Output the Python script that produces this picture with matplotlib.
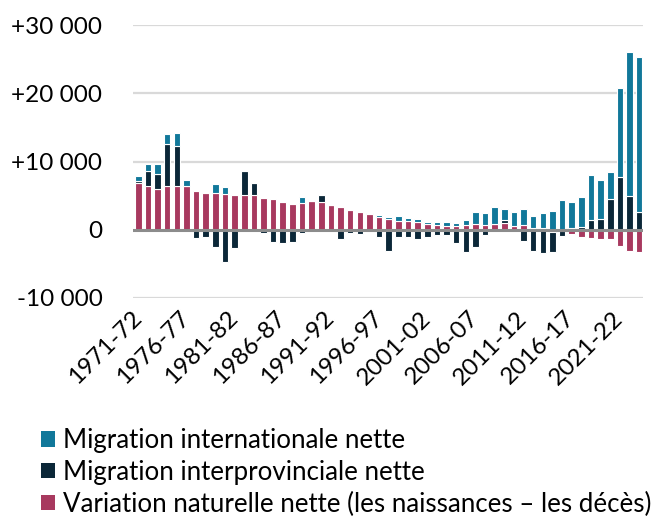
import matplotlib
matplotlib.use("Agg")
import matplotlib.pyplot as plt
from matplotlib.patches import Patch
import numpy as np

plt.rcParams['font.family'] = ['Lato', 'DejaVu Sans']

years = [f"{y}-{str(y + 1)[-2:]}" for y in range(1971, 2024)]
tick_labels = ["1971-72", "1976-77", "1981-82", "1986-87", "1991-92", "1996-97",
               "2001-02", "2006-07", "2011-12", "2016-17", "2021-22"]

natural = [6830, 6440, 5900, 6440, 6440, 6340, 5710, 5410, 5320, 5270,
           5070, 5070, 5070, 4700, 4540, 4100, 3800, 3950, 4200, 4100,
           3660, 3370, 2880, 2630, 2260, 1800, 1610, 1340, 1340, 1070,
           780, 750, 490, 490, 680, 780, 630, 900, 930, 490,
           650, 250, 200, -400, -150, -600, -1070, -1220, -1320, -1320,
           -2340, -3070, -3270]
interprov = [350, 2100, 2250, 6100, 5900, 0, -1220, -1020, -2590, -4780,
             -2680, 3610, 1760, -490, -1760, -1950, -1850, -490, 0, 950,
             0, -1300, -520, -650, -150, -1120, -3070, -1070, -1050, -1370,
             -1070, -700, -730, -1950, -3320, -2540, -730, 0, 500, 100,
             -1600, -3120, -3420, -2830, -750, 250, 350, 1460, 1560, 4490,
             7660, 4880, 2590]
international = [700, 1070, 1510, 1460, 1810, 980, 0, 0, 1410, 930,
                 0, 0, 0, 0, 0, 0, 0, 800, 0, 0,
                 0, 0, 0, 0, 250, 300, 250, 650, 450, 450,
                 350, 450, 580, 480, 700, 1800, 1850, 2500, 1650, 2050,
                 2350, 1800, 2300, 2680, 4390, 3750, 4400, 6540, 5660, 4000,
                 13070, 21120, 22780]

series = [
    ("Variation naturelle nette (les naissances \u2013 les d\u00e9c\u00e8s)", natural, "#A8395F"),
    ("Migration interprovinciale nette", interprov, "#0B2738"),
    ("Migration internationale nette", international, "#11789A"),
]

FS_TICK = 17.5
FS_LEG = 18.6

fig = plt.figure(figsize=(6.71, 5.25), dpi=100)
ax = fig.add_axes([133 / 671, 1 - 298 / 525, (643 - 133) / 671, (298 - 25) / 525])

x = np.arange(len(years))
pos_bottom = np.zeros(len(years))
neg_bottom = np.zeros(len(years))
for name, vals, col in series:
    v = np.array(vals, dtype=float)
    bottom = np.where(v >= 0, pos_bottom, neg_bottom)
    ax.bar(x, v, bottom=bottom, width=0.68, color=col, edgecolor="white",
           linewidth=0.8, zorder=2)
    pos_bottom += np.where(v > 0, v, 0)
    neg_bottom += np.where(v < 0, v, 0)

ax.set_ylim(-10000, 30000)
ax.set_xlim(-0.55, len(years) - 0.6)
yt = [-10000, 0, 10000, 20000, 30000]
ax.set_yticks(yt)
ax.set_yticklabels(["-10 000", "0", "+10 000", "+20 000", "+30 000"], fontsize=FS_TICK)
for v in [-10000, 10000, 20000, 30000]:
    ax.axhline(v, color="#D9D9D9", lw=1.6, zorder=1)
ax.axhline(0, color="#8C8C8C", lw=2.2, zorder=3)

tick_pos = [years.index(t) for t in tick_labels]
ax.set_xticks(tick_pos)
ax.set_xticklabels(tick_labels, rotation=45, ha="right", va="center",
                   rotation_mode="anchor", fontsize=FS_TICK)
ax.tick_params(axis="both", length=0)
ax.tick_params(axis="y", pad=22)
ax.tick_params(axis="x", pad=12)
for s in ax.spines.values():
    s.set_visible(False)

handles = [Patch(facecolor=c, edgecolor="none", label=n) for n, _, c in reversed(series)]
fig.legend(handles=handles, loc="upper left", bbox_to_anchor=(41 / 671, 1 - 428 / 525),
           frameon=False, fontsize=FS_LEG, handlelength=0.55, handleheight=0.55,
           handletextpad=0.3, labelspacing=0.26, borderaxespad=0, borderpad=0)

fig.savefig("out.png", dpi=100)
